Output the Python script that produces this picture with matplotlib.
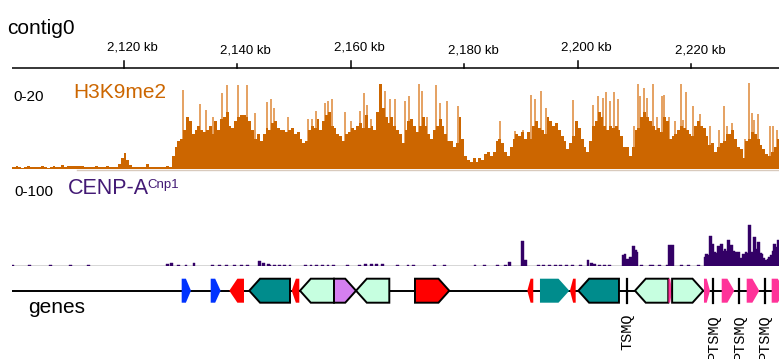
import matplotlib
matplotlib.use("Agg")
import matplotlib.pyplot as plt
import matplotlib.transforms as mtransforms
from matplotlib.patches import Polygon
from matplotlib.lines import Line2D
import numpy as np

W, H = 779, 359

# visible region (kb)
view_start, view_end = 2100.36, 2235.42
ruler_ticks = [2120, 2140, 2160, 2180, 2200, 2220]

# H3K9me2 coverage, 0.5 kb bins from 2100.0 kb (scale 0-20)
h3_start = 2100.0
h3_bin = 0.5
h3_values = [
    0.5, 0.4, 0.6, 0.5, 0.3, 0.5, 0.6, 0.4, 0.5, 0.5, 0.4, 0.6, 0.5, 0.3, 0.5, 0.6, 0.5, 0.4,
    0.9, 0.5,
    0.6, 0.7, 0.8, 0.7, 0.6, 0.8,
    0.5, 0.4, 0.5, 0.5, 0.6, 0.5, 0.4, 0.5, 0.6, 0.5, 0.5, 0.4,
    1.2, 2.5, 3.7, 2.0, 1.0,
    0.5, 0.4, 0.5, 0.4, 0.5, 1.2,
    0.5, 0.4, 0.5, 0.5, 0.4, 0.5, 0.6, 0.5,
    3.0,
    5.0, 6.5, 7.0, 9, 12, 11, 8, 9, 10, 9, 8.5, 9, 10, 8, 11, 9,
    11.5, 12, 13, 10, 9.5, 11, 12, 12.5, 12.5, 12, 11, 9, 7, 8, 6.5, 8,
    9.5, 9, 10.5, 11, 9.5, 9, 9, 8.5, 9, 9.5,
    8, 8.5, 7, 6, 6.5, 9, 10, 9.5, 11.5, 9,
    11, 12.5, 13, 10, 9.5, 8, 7.5, 6.5, 8, 8.5,
    9.5, 9, 10, 10.5, 9.5, 12.5, 9.5, 10, 9, 13,
    19.5, 14, 12, 10.5, 12, 10, 9, 8, 6, 9,
    11, 11.5, 10, 8.5, 10, 12, 10, 8, 7, 9,
    10, 11.5, 10, 8, 6.5, 6.5, 5, 6, 12, 7,
    3, 2, 1.5, 2.5, 1.5, 2.5, 2, 3.5, 4, 3,
    4, 6.5, 7, 6, 4, 3, 5, 7, 8, 7.5,
    8.5, 7, 8.5, 7, 10, 11, 9.5, 9, 8, 12,
    11, 10, 10.5, 9, 7.5, 6.5, 4.5, 6, 7.5, 11,
    9.5, 7, 5, 4, 6.5, 10, 11, 13, 12, 10,
    9, 10, 9.5, 10, 9, 7.5, 5, 5, 3, 5,
    9, 9.5, 12, 13, 12, 11, 10, 9, 9.5, 8.5,
    12, 11, 7, 7.5, 8, 9, 10, 9.5, 9, 8,
    7.5, 10, 11, 10, 9.5, 7.5, 5.5, 6, 4, 5,
    6, 6.5, 8, 8, 9, 7, 5, 4.5, 2.5, 6.5,
    7, 8.5, 8, 7, 5.5, 4.5, 3.5, 3, 4, 5,
    7, 7,
]

# narrow H3K9me2 peaks (kb, value)
h3_peak_pos = [
    2130.5, 2133.45, 2134.6, 2135.8, 2137.3, 2138.15, 2140.1, 2141.7, 2143.1, 2145.2,
    2145.9, 2146.5, 2148.9, 2152.5, 2153.1, 2153.9, 2155.5, 2156.05, 2156.75, 2159.0,
    2160.0, 2161.6, 2162.4, 2162.8, 2163.5, 2166.1, 2167.0, 2167.8, 2169.55, 2170.25,
    2172.0, 2172.5, 2173.4, 2175.1, 2175.7, 2176.9, 2178.9, 2186.3, 2188.9, 2190.4,
    2191.7, 2192.4, 2193.5, 2194.4, 2199.2, 2202.6, 2203.5, 2204.4, 2204.95, 2205.6,
    2206.4, 2207.1, 2209.9, 2210.6, 2210.9, 2211.6, 2212.2, 2213.3, 2213.9, 2214.75,
    2215.2, 2216.1, 2217.1, 2218.1, 2218.6, 2219.1, 2220.3, 2221.5, 2223.25, 2224.9,
    2225.7, 2226.3, 2227.1, 2229.4, 2230.2, 2230.6, 2231.0, 2231.8, 2233.8, 2234.4,
    2235.0,
]
h3_peak_val = [
    18.2, 15, 13.6, 12, 17.5, 19.4, 19.4, 19.4, 12.9, 15.5,
    16, 14, 12, 11.5, 11.5, 13.3, 15.2, 15.6, 16.2, 13,
    11, 13.4, 17.5, 14.8, 11.5, 18, 16.2, 16.2, 15.6, 16.7,
    19.6, 17.9, 12, 19.2, 15.2, 15.6, 14.4, 11, 8.7, 9,
    16.9, 16, 17.9, 14, 15.8, 14.8, 16.7, 16.3, 17.6, 15.6,
    17.6, 16, 10, 19.6, 16.7, 18.6, 16.3, 19.6, 12, 16.7,
    17, 12, 11, 19.6, 11.3, 17.6, 14.4, 12.7, 10, 9,
    14.4, 10, 10.6, 7, 19.8, 12.9, 11.3, 12.7, 9.8, 9.8,
    9,
]

# CENP-A(Cnp1) coverage (kb, value), scale 0-100
cenpa_pos = [
    2100.4, 2103.4, 2107.2, 2110.6, 2113.9, 2127.8, 2128.5, 2129.7, 2131.0, 2132.4,
    2135.7, 2136.9, 2138.2, 2139.5, 2140.8, 2141.9, 2144.0, 2144.6, 2145.5, 2145.8,
    2146.6, 2147.4, 2148.4, 2149.3, 2152.0, 2153.0, 2154.0, 2155.0, 2156.0, 2157.0,
    2159.5, 2161.6, 2162.6, 2163.6, 2164.6, 2165.6, 2168.2, 2170.1, 2171.0, 2174.8,
    2176.5, 2181.9, 2183.5, 2185.8, 2187.2, 2188.0, 2190.3, 2190.8, 2193.0, 2194.0,
    2195.0, 2196.0, 2197.0, 2198.0, 2199.0, 2200.5, 2201.8, 2202.4, 2202.9, 2203.8,
    2204.7, 2205.5, 2208.0, 2208.3, 2208.7, 2209.2, 2209.8, 2210.1, 2210.4, 2211.2,
    2212.7, 2213.2, 2214.4, 2215.7, 2216.1, 2216.6, 2218.3, 2219.5, 2221.2, 2222.4,
    2222.7, 2223.0, 2223.4, 2223.7, 2224.1, 2224.4, 2224.7, 2225.0, 2225.3, 2225.6,
    2225.9, 2226.2, 2226.5, 2226.8, 2227.1, 2227.4, 2227.7, 2228.0, 2228.3, 2228.8,
    2229.1, 2229.6, 2229.9, 2230.2, 2230.6, 2230.9, 2231.1, 2231.4, 2231.8, 2232.1,
    2232.4, 2232.7, 2233.0, 2233.5, 2233.8, 2234.1, 2234.4, 2234.7, 2235.0, 2235.3,
]
cenpa_val = [
    1, 1, 1, 1, 1, 2.3, 3.5, 1.5, 1.5, 3.5,
    1.5, 1.5, 1.5, 1.5, 1.5, 1.5, 6, 3.5, 2, 1.2,
    1.2, 1.2, 1.2, 1, 1.3, 1.3, 1.3, 1.3, 1.3, 1.3,
    1, 1.5, 2.5, 2, 2.5, 2, 1, 1, 1, 1,
    1, 1, 1, 1.2, 1.5, 4.5, 28.7, 7.4, 1, 1,
    1, 1, 1, 1, 1, 1, 7.4, 3.5, 2, 1.5,
    1.5, 1.2, 12.4, 14.3, 8.5, 10.5, 23.6, 18.2, 16.3, 1,
    1, 1.2, 1.2, 1.2, 24, 24, 1, 1, 1, 10.5,
    14.3, 13, 34.9, 26, 16.3, 15, 22.9, 17, 25.2, 18,
    20.2, 17, 30.6, 19, 24, 17, 16.3, 15, 16.3, 9,
    14.3, 16.3, 15, 48, 16.3, 14, 33.7, 20, 27.9, 15,
    14.3, 9, 6.6, 8.5, 10, 12.4, 18, 26, 22, 29.8,
]

# genes
gene_start = [2130.24, 2135.35, 2138.62, 2142.14, 2149.61, 2151.07, 2157.06, 2160.94,
              2171.32, 2191.10, 2193.33, 2198.61, 2200.08, 2210.06, 2215.95, 2216.60,
              2222.21, 2225.33, 2229.73, 2234.13]
gene_end = [2131.88, 2137.10, 2141.21, 2149.31, 2150.95, 2157.06, 2160.94, 2166.80,
            2177.36, 2192.15, 2198.49, 2199.62, 2207.24, 2215.92, 2216.60, 2222.09,
            2223.27, 2227.55, 2231.95, 2236.50]
gene_strand = ['+', '+', '-', '-', '-', '-', '+', '-',
               '+', '-', '+', '-', '-', '-', '+', '+',
               '+', '+', '+', '+']
gene_color = ['#0033ff', '#0033ff', '#ff0000', '#008c8c', '#ff0000', '#c6ffe0', '#d47ff0', '#c6ffe0',
              '#ff0000', '#ff0000', '#008c8c', '#ff0000', '#008c8c', '#c6ffe0', '#ff3399', '#c6ffe0',
              '#ff3399', '#ff3399', '#ff3399', '#ff3399']
gene_outline = [False, False, False, True, False, True, True, True,
                True, False, False, False, True, True, False, True,
                False, False, False, False]

marker_pos = [2208.70, 2223.85, 2228.43, 2232.95]
marker_label = ['TSMQ', 'PTSMQ', 'PTSMQ', 'PTSMQ']

plt.rcParams['font.family'] = ['Liberation Sans', 'DejaVu Sans']

fig = plt.figure(figsize=(W / 100, H / 100), dpi=100)


def frac(x, y):
    return x / W, 1 - y / H


left = 12 / W
width = (W - 12) / W

# overlay axes in pixel y units for ruler and genes
ov = fig.add_axes([left, 0, width, 1])
ov.set_xlim(view_start, view_end)
ov.set_ylim(H, 0)
ov.axis('off')

# ruler
ov.plot([view_start, view_end], [68, 68], color='black', lw=1.1, solid_capstyle='butt')
shift = mtransforms.ScaledTranslation(8.7 / 100, 0, fig.dpi_scale_trans)
for i, t in enumerate(ruler_ticks):
    top = 61 if i % 2 == 0 else 64
    base = 50.5 if i % 2 == 0 else 53.5
    ov.plot([t, t], [top, 68], color='black', lw=1.1)
    ov.text(t, base, f"{t:,} kb", ha='center', va='baseline', fontsize=9.5,
            transform=ov.transData + shift)

# H3K9me2 track
ax_h3 = fig.add_axes([left, 1 - 169 / H, width, 87 / H])
ax_h3.set_xlim(view_start, view_end)
ax_h3.set_ylim(0, 20)
ax_h3.axis('off')
edges = h3_start + h3_bin * np.arange(len(h3_values) + 1)
ax_h3.vlines(h3_peak_pos, 0, h3_peak_val, color='#e39a55', lw=1.3, zorder=1)
ax_h3.stairs(h3_values, edges, fill=True, color='#cc6600', lw=0, zorder=2)

fig.add_artist(Line2D([77 / W, 1], [1 - 170.5 / H] * 2, color='#d8cabd', lw=1))

# CENP-A track
ax_c = fig.add_axes([left, 1 - 266 / H, width, 86 / H])
ax_c.set_xlim(view_start, view_end)
ax_c.set_ylim(0, 100)
ax_c.axis('off')
ax_c.axhline(0, color='#cfcfcf', lw=1.2, zorder=1)
ax_c.bar(cenpa_pos, cenpa_val, width=0.5, color='#330066',
         edgecolor='#330066', lw=0.3, zorder=2)

# genes
gy, gh = 290.7, 12.0
ov.plot([view_start, view_end], [gy, gy], color='black', lw=1.4, zorder=1)
for s, e, st, c, ol in zip(gene_start, gene_end, gene_strand, gene_color, gene_outline):
    tip = min(1.9, 0.55 * (e - s))
    if st == '+':
        pts = [(s, gy - gh), (e - tip, gy - gh), (e, gy), (e - tip, gy + gh), (s, gy + gh)]
    else:
        pts = [(e, gy - gh), (s + tip, gy - gh), (s, gy), (s + tip, gy + gh), (e, gy + gh)]
    ov.add_patch(Polygon(pts, closed=True, facecolor=c,
                         edgecolor='black' if ol else 'none',
                         lw=1.4 if ol else 0, joinstyle='miter', zorder=2))
for p, lab in zip(marker_pos, marker_label):
    ov.plot([p, p], [gy - gh, gy + gh], color='black', lw=1.6, zorder=3)
    ov.text(p, 314, lab, rotation=90, ha='center', va='top', fontsize=11,
            family=['Liberation Mono', 'DejaVu Sans Mono'], clip_on=False)

# track labels
fig.text(*frac(7, 33.5), 'contig0', fontsize=15, va='baseline')
fig.text(*frac(13, 101), '0-20', fontsize=11, va='baseline')
fig.text(*frac(73, 97.7), 'H3K9me2', fontsize=15, va='baseline', color='#cc6600')
fig.text(*frac(14, 195.5), '0-100', fontsize=11, va='baseline')
fig.text(*frac(68, 194), 'CENP-A', fontsize=15.5, va='baseline', color='#431a75')
fig.text(*frac(147.5, 188), 'Cnp1', fontsize=9.5, va='baseline', color='#431a75')
fig.text(*frac(28, 313), 'genes', fontsize=15, va='baseline')

fig.savefig('out.png', dpi=100)
